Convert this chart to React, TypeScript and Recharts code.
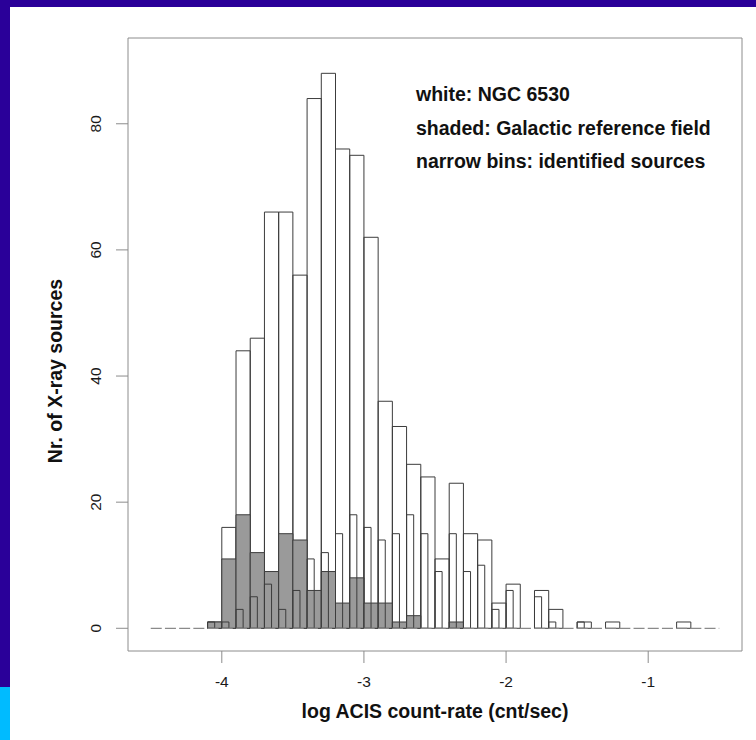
import React from 'react';
import { ComposedChart, XAxis, YAxis, ReferenceArea, Line, Label } from 'recharts';

// Left edges of the 0.1-dex bins in log count-rate
const binLefts = [
  -4.5, -4.4, -4.3, -4.2, -4.1, -4.0, -3.9, -3.8, -3.7, -3.6,
  -3.5, -3.4, -3.3, -3.2, -3.1, -3.0, -2.9, -2.8, -2.7, -2.6,
  -2.5, -2.4, -2.3, -2.2, -2.1, -2.0, -1.9, -1.8, -1.7, -1.6,
  -1.5, -1.4, -1.3, -1.2, -1.1, -1.0, -0.9, -0.8, -0.7, -0.6,
];
const wideBinWidth = 0.1;
const narrowBinWidth = 0.05;

// NGC 6530 sources per bin (white histogram)
const ngc6530Counts = [
  0, 0, 0, 0, 1, 16, 44, 46, 66, 66,
  56, 84, 88, 76, 75, 62, 36, 32, 26, 24,
  11, 23, 15, 14, 4, 7, 0, 6, 3, 0,
  1, 0, 1, 0, 0, 0, 0, 1, 0, 0,
];

// Galactic reference field per bin (shaded histogram)
const galacticCounts = [
  0, 0, 0, 0, 1, 11, 18, 12, 9, 15,
  14, 6, 9, 4, 8, 4, 4, 1, 2, 0,
  0, 1, 0, 0, 0, 0, 0, 0, 0, 0,
  0, 0, 0, 0, 0, 0, 0, 0, 0, 0,
];

// Identified sources (narrow bins, first half of each 0.1 bin)
const identifiedCounts = [
  0, 0, 0, 0, 1, 1, 3, 5, 7, 3,
  6, 11, 12, 15, 18, 16, 14, 15, 18, 15,
  9, 15, 9, 10, 3, 6, 0, 5, 1, 0,
  1, 0, 0, 0, 0, 0, 0, 0, 0, 0,
];

const xTicks = [-4, -3, -2, -1];
const yTicks = [0, 20, 40, 60, 80];
const xDomain: [number, number] = [-4.66, -0.34];
const yDomain: [number, number] = [-3.6, 93.6];
const baseline = [
  { x: -4.5, y: 0 },
  { x: -0.5, y: 0 },
];
const noteLines = [
  'white: NGC 6530',
  'shaded: Galactic reference field',
  'narrow bins: identified sources',
];

const FONT = '"Liberation Sans", Arial, Helvetica, sans-serif';
const NAVY = '#2a0099';
const CYAN = '#00bbff';
const BAR_STROKE = '#3c3c3c';
const SHADE = '#9a9a9a';
const FRAME = '#8c8c8c';

const YTick = (props: any) => {
  const { x, y, payload } = props;
  return (
    <text
      x={x}
      y={y}
      transform={`rotate(-90 ${x} ${y})`}
      textAnchor="middle"
      fill="#1a1a1a"
      fontSize={15.5}
      fontFamily={FONT}
    >
      {payload.value}
    </text>
  );
};

const XTitle = (props: any) => {
  const vb = props.viewBox;
  return (
    <text
      x={vb.x + vb.width / 2}
      y={vb.y + 67}
      textAnchor="middle"
      fill="#111"
      fontSize={19.5}
      fontWeight="bold"
      fontFamily={FONT}
    >
      log ACIS count-rate (cnt/sec)
    </text>
  );
};

const YTitle = (props: any) => {
  const vb = props.viewBox;
  const cx = vb.x + 61.5;
  const cy = 371;
  return (
    <text
      x={cx}
      y={cy}
      transform={`rotate(-90 ${cx} ${cy})`}
      textAnchor="middle"
      fill="#111"
      fontSize={19.5}
      fontWeight="bold"
      fontFamily={FONT}
    >
      Nr. of X-ray sources
    </text>
  );
};

export default function App() {
  return (
    <div
      style={{
        position: 'absolute',
        left: 0,
        top: 0,
        width: 756,
        height: 740,
        background: '#ffffff',
        overflow: 'hidden',
      }}
    >
      <div style={{ position: 'absolute', left: 0, top: 0, width: 756, height: 7, background: NAVY }} />
      <div style={{ position: 'absolute', left: 0, top: 0, width: 10, height: 687, background: NAVY }} />
      <div style={{ position: 'absolute', left: 0, top: 687, width: 10, height: 53, background: CYAN }} />
      <div style={{ position: 'absolute', left: 0, top: 0 }}>
        <ComposedChart
          width={756}
          height={740}
          data={baseline}
          margin={{ top: 38, right: 14, bottom: 0, left: 0 }}
        >
          <XAxis
            type="number"
            dataKey="x"
            domain={xDomain}
            ticks={xTicks}
            interval={0}
            allowDataOverflow
            axisLine={false}
            tickSize={12}
            tickMargin={13}
            tickLine={{ stroke: FRAME }}
            tick={{ fill: '#1a1a1a', fontSize: 15.5, fontFamily: FONT }}
            height={89}
          >
            <Label content={<XTitle />} />
          </XAxis>
          <YAxis
            type="number"
            dataKey="y"
            domain={yDomain}
            ticks={yTicks}
            interval={0}
            allowDataOverflow
            axisLine={false}
            tickSize={12}
            tickMargin={15}
            tickLine={{ stroke: FRAME }}
            tick={<YTick />}
            width={128}
          >
            <Label content={<YTitle />} />
          </YAxis>

          {/* plot frame */}
          <ReferenceArea
            x1={xDomain[0]}
            x2={xDomain[1]}
            y1={yDomain[0]}
            y2={yDomain[1]}
            fill="none"
            stroke={FRAME}
            strokeWidth={1}
            ifOverflow="visible"
          />

          {/* NGC 6530: open wide bins */}
          {binLefts.map((left, i) =>
            ngc6530Counts[i] > 0 ? (
              <ReferenceArea
                key={`ngc-${i}`}
                x1={left}
                x2={left + wideBinWidth}
                y1={0}
                y2={ngc6530Counts[i]}
                fill="none"
                stroke={BAR_STROKE}
                strokeWidth={1}
                ifOverflow="visible"
              />
            ) : null
          )}

          {/* Galactic reference field: shaded wide bins */}
          {binLefts.map((left, i) =>
            galacticCounts[i] > 0 ? (
              <ReferenceArea
                key={`gal-${i}`}
                x1={left}
                x2={left + wideBinWidth}
                y1={0}
                y2={galacticCounts[i]}
                fill={SHADE}
                fillOpacity={1}
                stroke={BAR_STROKE}
                strokeWidth={1}
                ifOverflow="visible"
              />
            ) : null
          )}

          {/* identified sources: narrow open bins */}
          {binLefts.map((left, i) =>
            identifiedCounts[i] > 0 ? (
              <ReferenceArea
                key={`id-${i}`}
                x1={left}
                x2={left + narrowBinWidth}
                y1={0}
                y2={identifiedCounts[i]}
                fill="none"
                stroke={BAR_STROKE}
                strokeWidth={1}
                ifOverflow="visible"
              />
            ) : null
          )}

          {/* empty-bin baseline */}
          <Line
            dataKey="y"
            stroke="#8a8a8a"
            strokeWidth={1.2}
            strokeDasharray="11 3.2"
            dot={false}
            activeDot={false}
            isAnimationActive={false}
          />
        </ComposedChart>
      </div>
      <svg
        width={756}
        height={740}
        style={{ position: 'absolute', left: 0, top: 0, pointerEvents: 'none' }}
      >
        {noteLines.map((line, i) => (
          <text
            key={line}
            x={416}
            y={101 + i * 33.5}
            fill="#111"
            fontSize={19.5}
            fontWeight="bold"
            fontFamily={FONT}
          >
            {line}
          </text>
        ))}
      </svg>
    </div>
  );
}
